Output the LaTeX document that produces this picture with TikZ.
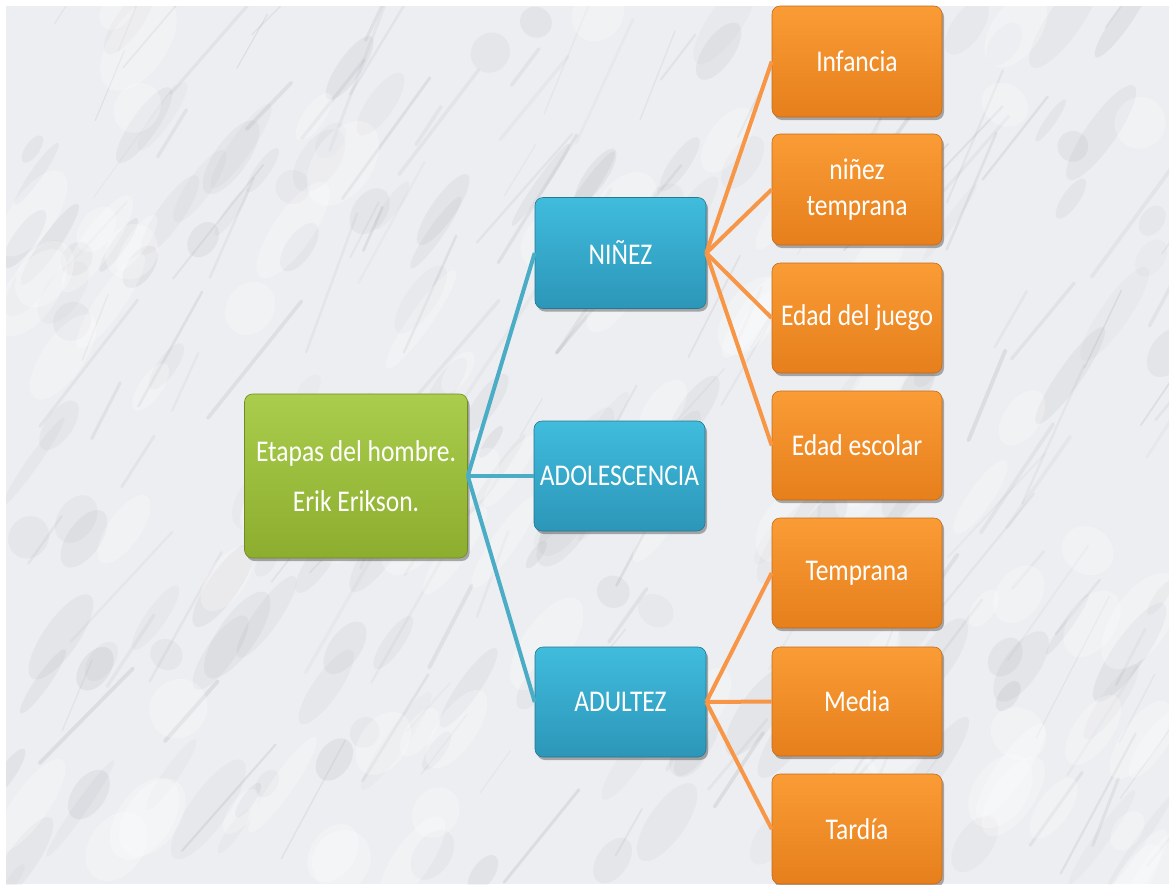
\documentclass[tikz,border=0pt]{standalone}
\usepackage{fontspec}
\usepackage{graphicx}
\setmainfont{Carlito}
\usetikzlibrary{shadows}
\definecolor{bgmarble}{HTML}{EDEEF1}
\definecolor{veins}{HTML}{8E9097}
\definecolor{gtop}{HTML}{AACD4E}
\definecolor{gbot}{HTML}{8CAD2E}
\definecolor{btop}{HTML}{40BCDD}
\definecolor{bbot}{HTML}{2C96B8}
\definecolor{otop}{HTML}{FA9C36}
\definecolor{obot}{HTML}{E67F1C}
\definecolor{bline}{HTML}{4BACC6}
\definecolor{oline}{HTML}{F79646}
\newcommand{\tx}[1]{\scalebox{1}[1.18]{#1}}
\tikzset{
  boxbase/.style={rounded corners=8pt, text=white, align=center,
    font=\fontsize{25.5}{38}\selectfont, inner sep=0pt,
    drop shadow={shadow xshift=2pt, shadow yshift=-3pt, opacity=0.45, fill=black!70}},
  rootbox/.style={boxbase, top color=gtop, bottom color=gbot, draw=gbot!80!black, line width=0.6pt,
    minimum width=223pt, minimum height=164pt},
  midbox/.style={boxbase, top color=btop, bottom color=bbot, draw=bbot!80!black, line width=0.6pt,
    minimum width=171pt, minimum height=111pt},
  leafbox/.style={boxbase, top color=otop, bottom color=obot, draw=obot!85!black, line width=0.6pt,
    minimum width=170pt, minimum height=110pt},
  blink/.style={draw=bline, line width=4pt},
  olink/.style={draw=oline, line width=4pt}
}
\begin{document}
\begin{tikzpicture}[x=1pt,y=-1pt]
\useasboundingbox (0,0) rectangle (1169,884);
\fill[white] (0,0) rectangle (1169,884);
\fill[bgmarble] (6,6) rectangle (1169,884);
\pgfmathsetseed{11}
\begin{scope}
\clip (6,6) rectangle (1169,884);
\foreach \i in {1,...,160}{
  \pgfmathsetmacro{\px}{6+rnd*1163}
  \pgfmathsetmacro{\py}{6+rnd*878}
  \pgfmathsetmacro{\rx}{15+rnd*45}
  \pgfmathsetmacro{\ry}{5+rnd*15}
  \pgfmathsetmacro{\op}{0.04+rnd*0.08}
  \fill[veins, opacity=\op, rotate around={55:(\px,\py)}] (\px,\py) ellipse ({\rx} and {\ry});
}
\foreach \i in {1,...,140}{
  \pgfmathsetmacro{\px}{6+rnd*1163}
  \pgfmathsetmacro{\py}{6+rnd*878}
  \pgfmathsetmacro{\len}{40+rnd*120}
  \pgfmathsetmacro{\ang}{-45-rnd*25}
  \pgfmathsetmacro{\lw}{1+rnd*3}
  \pgfmathsetmacro{\op}{0.06+rnd*0.12}
  \draw[veins, line width=\lw pt, opacity=\op, line cap=round]
    (\px,\py) -- ++({\len*cos(\ang)},{\len*sin(\ang)});
}
\foreach \i in {1,...,90}{
  \pgfmathsetmacro{\px}{6+rnd*1163}
  \pgfmathsetmacro{\py}{6+rnd*878}
  \pgfmathsetmacro{\rx}{20+rnd*40}
  \pgfmathsetmacro{\ry}{10+rnd*20}
  \fill[white, opacity=0.25, rotate around={55:(\px,\py)}] (\px,\py) ellipse ({\rx} and {\ry});
}
\end{scope}

% nodes
\node[rootbox] (root) at (356,476) {\tx{Etapas del hombre.}\\[12pt]\tx{Erik Erikson.}};
\node[midbox] (ninez) at (620.5,253) {\tx{NIÑEZ}};
\node[midbox, minimum height=110pt] (adol) at (619.5,476) {\tx{ADOLESCENCIA}};
\node[midbox, minimum height=110pt] (adul) at (620.5,702) {\tx{ADULTEZ}};

\node[leafbox, minimum height=111pt] (inf) at (857,61.5) {\tx{Infancia}};
\node[leafbox, minimum height=111pt] (temp1) at (857,189.5) {\tx{niñez}\\[-2pt]\tx{temprana}};
\node[leafbox] (juego) at (857,318) {\tx{Edad del juego}};
\node[leafbox, minimum height=109pt] (escolar) at (857,445.5) {\tx{Edad escolar}};
\node[leafbox] (temp2) at (857,573) {\tx{Temprana}};
\node[leafbox, minimum height=109pt] (media) at (857,701.5) {\tx{Media}};
\node[leafbox] (tardia) at (857,829) {\tx{Tardía}};

% connectors
\draw[blink] (root.east) -- (ninez.west);
\draw[blink] (root.east) -- (adol.west);
\draw[blink] (root.east) -- (adul.west);
\foreach \t in {inf,temp1,juego,escolar}{
  \draw[olink] (ninez.east) -- (\t.west);
}
\foreach \t in {temp2,media,tardia}{
  \draw[olink] (adul.east) -- (\t.west);
}
\end{tikzpicture}
\end{document}
